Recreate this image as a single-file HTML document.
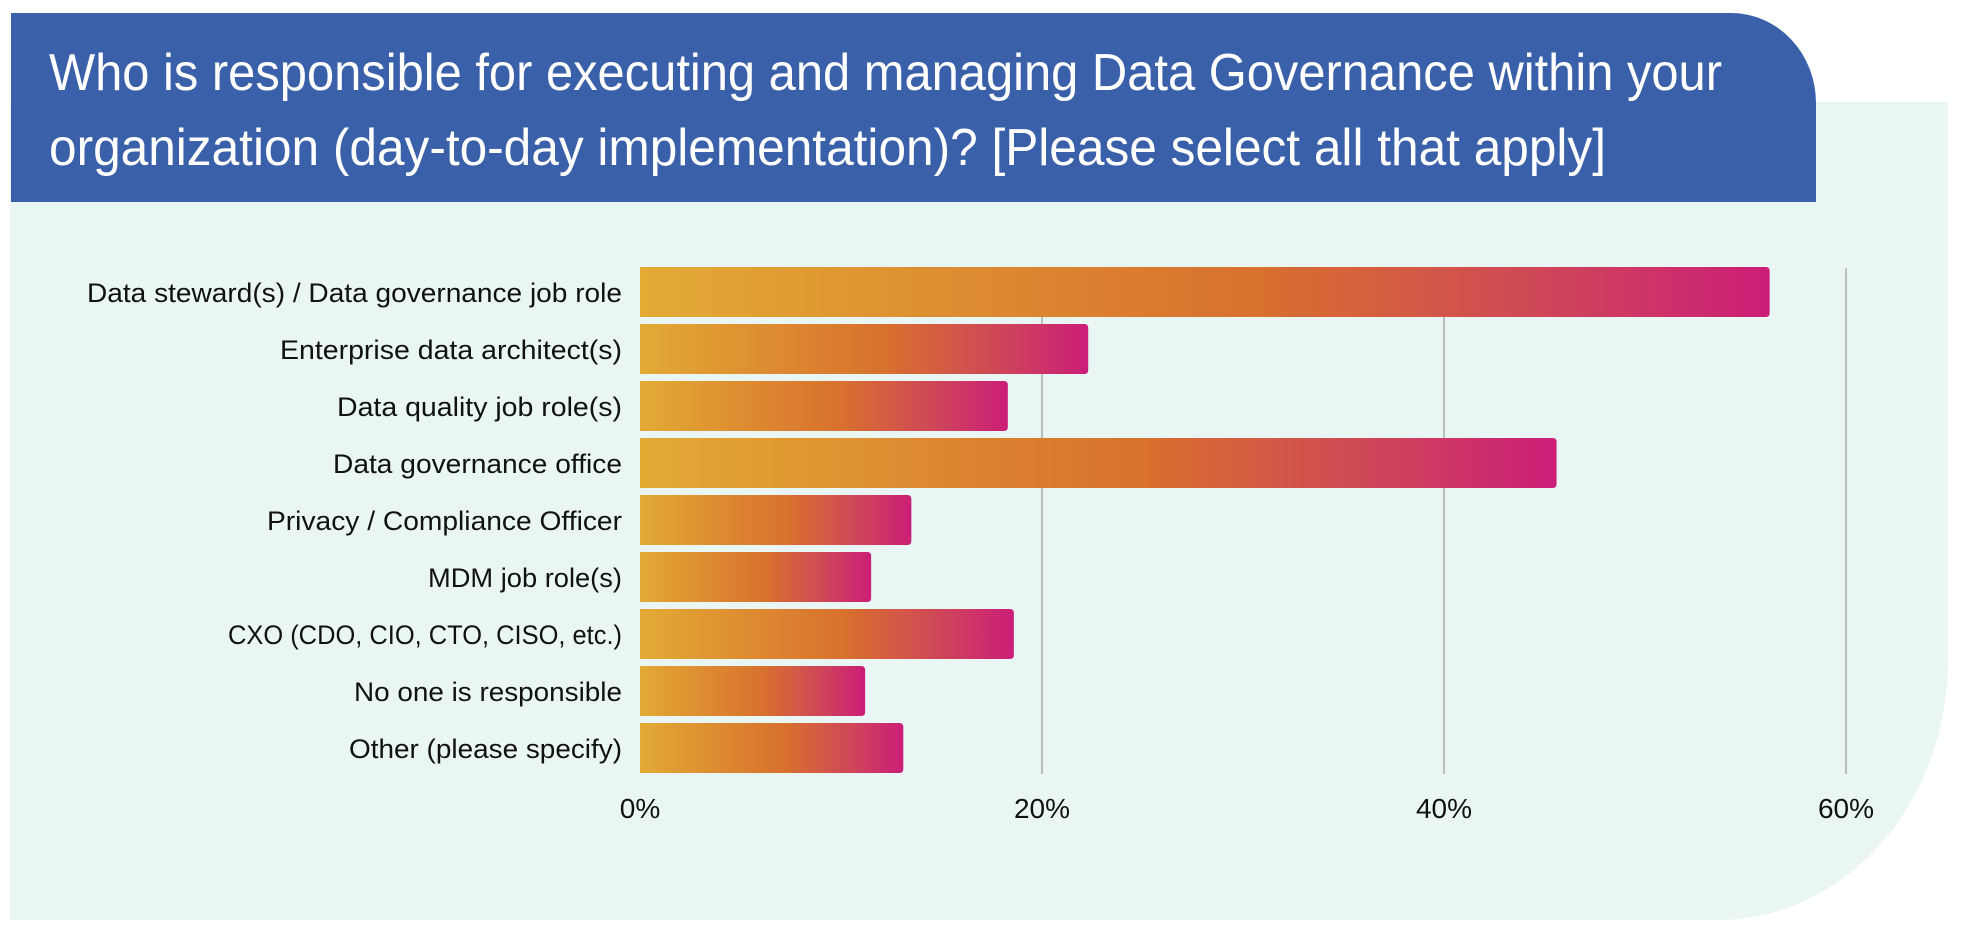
<!DOCTYPE html>
<html><head><meta charset="utf-8"><style>
html,body{margin:0;padding:0;background:#fff;width:1968px;height:926px;overflow:hidden}
svg{display:block}
</style></head><body>
<svg id="chart" width="1968" height="926" viewBox="0 0 1968 926" xmlns="http://www.w3.org/2000/svg">
<defs>
<linearGradient id="barGrad" x1="0" y1="0" x2="1" y2="0">
<stop offset="0" stop-color="#e3aa34"/>
<stop offset="0.55" stop-color="#d8702e"/>
<stop offset="0.78" stop-color="#cf4a55"/>
<stop offset="1" stop-color="#cb1e78"/>
</linearGradient>
</defs>
<path d="M10 102 H1948 V660 A230 260 0 0 1 1718 920 H10 Z" fill="#eaf6f4"/>
<path d="M11 13 H1731 A85 90 0 0 1 1816 103 V202 H11 Z" fill="#3a60aa"/>
<text x="49" y="90" font-family="Liberation Sans, sans-serif" font-size="52" fill="#fff" textLength="1673" lengthAdjust="spacingAndGlyphs">Who is responsible for executing and managing Data Governance within your</text>
<text x="49" y="165" font-family="Liberation Sans, sans-serif" font-size="52" fill="#fff" textLength="1557" lengthAdjust="spacingAndGlyphs">organization (day-to-day implementation)? [Please select all that apply]</text>
<g id="grid"></g>
<g id="bars"></g>
<g id="labels"></g>
<g id="ticks"></g>
</svg>
<script>
const categories = ["Data steward(s) / Data governance job role","Enterprise data architect(s)","Data quality job role(s)","Data governance office","Privacy / Compliance Officer","MDM job role(s)","CXO (CDO, CIO, CTO, CISO, etc.)","No one is responsible","Other (please specify)"];
const values = [56.2, 22.3, 18.3, 45.6, 13.5, 11.5, 18.6, 11.2, 13.1];
const tickValues = [0, 20, 40, 60];
const tickLabels = ["0%", "20%", "40%", "60%"];
const labelWidths = [535, 342, 285, 289, 355, 194, 394, 268, 273];

const NS = "http://www.w3.org/2000/svg";
const x0 = 640, pxPer = 20.1;
const xScale = v => x0 + v * pxPer;
const barTop0 = 267, pitch = 57, barH = 50;
const yScale = i => barTop0 + i * pitch;

const grid = document.getElementById('grid');
tickValues.forEach((t, i) => {
  if (t === 0) return;
  const l = document.createElementNS(NS, 'line');
  
  
  l.setAttribute('x1', xScale(t)); l.setAttribute('x2', xScale(t));
  l.setAttribute('y1', 268); l.setAttribute('y2', 774);
  l.setAttribute('stroke', '#b9bfbf'); l.setAttribute('stroke-width', '2');
  grid.appendChild(l);
});
const ticks = document.getElementById('ticks');
tickValues.forEach((t, i) => {
  const tx = document.createElementNS(NS, 'text');
  
  
  tx.setAttribute('x', xScale(t)); tx.setAttribute('y', 818);
  tx.setAttribute('text-anchor', 'middle');
  tx.setAttribute('font-family', 'Liberation Sans, sans-serif');
  tx.setAttribute('font-size', '28');
  tx.setAttribute('fill', '#111');
  tx.textContent = tickLabels[i];
  ticks.appendChild(tx);
});
const bars = document.getElementById('bars');
const labels = document.getElementById('labels');
categories.forEach((c, i) => {
  const r = document.createElementNS(NS, 'path');
  
  
  const xa = xScale(0), xb = xScale(values[i]), y = yScale(i), rr = 4;
  r.setAttribute('d', `M${xa} ${y} H${xb - rr} Q${xb} ${y} ${xb} ${y + rr} V${y + barH - rr} Q${xb} ${y + barH} ${xb - rr} ${y + barH} H${xa} Z`);
  r.setAttribute('fill', 'url(#barGrad)');
  bars.appendChild(r);
  const t = document.createElementNS(NS, 'text');
  
  
  t.setAttribute('x', 622); t.setAttribute('y', y + barH / 2 + 10);
  t.setAttribute('text-anchor', 'end');
  t.setAttribute('font-family', 'Liberation Sans, sans-serif');
  t.setAttribute('font-size', '27');
  t.setAttribute('fill', '#111');
  t.setAttribute('textLength', labelWidths[i]);
  t.setAttribute('lengthAdjust', 'spacingAndGlyphs');
  t.textContent = c;
  labels.appendChild(t);
});
</script>
</body></html>
